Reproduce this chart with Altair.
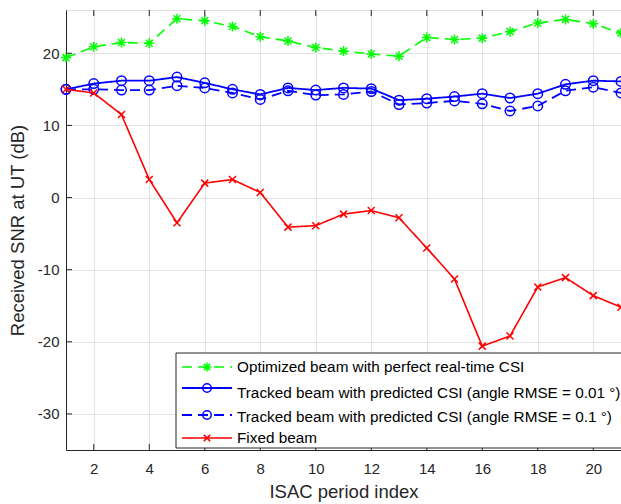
import altair as alt
import pandas as pd

# ---------------- data ----------------
period_index = list(range(1, 22))
optimized = [19.4, 20.9, 21.5, 21.4, 24.8, 24.5, 23.7, 22.3, 21.7, 20.8, 20.3,
             19.9, 19.6, 22.2, 21.9, 22.1, 23.0, 24.2, 24.7, 24.1, 22.8]
tracked_001 = [15.0, 15.8, 16.2, 16.2, 16.7, 15.9, 15.0, 14.3, 15.2, 14.9, 15.2,
               15.1, 13.5, 13.7, 14.0, 14.4, 13.8, 14.4, 15.7, 16.2, 16.1]
tracked_01 = [15.0, 15.0, 14.9, 14.9, 15.5, 15.2, 14.5, 13.6, 14.8, 14.2, 14.3,
              14.7, 12.9, 13.1, 13.4, 13.0, 12.0, 12.7, 14.8, 15.3, 14.5]
fixed = [15.0, 14.5, 11.5, 2.5, -3.5, 2.0, 2.5, 0.7, -4.1, -3.9, -2.3,
         -1.8, -2.8, -7.0, -11.3, -20.6, -19.2, -12.4, -11.1, -13.6, -15.2]

series_labels = [
    "Optimized beam with perfect real-time CSI",
    "Tracked beam with predicted CSI (angle RMSE = 0.01 °)",
    "Tracked beam with predicted CSI (angle RMSE = 0.1 °)",
    "Fixed beam",
]
series_values = [optimized, tracked_001, tracked_01, fixed]
x_ticks = [2, 4, 6, 8, 10, 12, 14, 16, 18, 20]
y_ticks = [-30, -20, -10, 0, 10, 20]

# ---------------- styles ----------------
colors = ["#00ff00", "#0000ff", "#0000ff", "#ff0000"]
dashes = [[10, 6], [1, 0], [10, 6], [1, 0]]
widths = [1.6, 1.8, 1.8, 1.6]
STAR = "M0,-1V1M-1,0H1M-0.7,-0.7L0.7,0.7M-0.7,0.7L0.7,-0.7"
XMARK = "M-1,-1L1,1M-1,1L1,-1"
shapes = [STAR, "circle", "circle", XMARK]
sizes = [100, 90, 90, 49]

FONT = "Liberation Sans"
AX = "#262626"
W, H = 555, 440

xscale = alt.Scale(domain=[1, 21], nice=False, zero=False)
yscale = alt.Scale(domain=[-35, 26], nice=False, zero=False)

X = alt.X("idx:Q", scale=xscale, axis=alt.Axis(
    values=x_ticks, grid=True, gridColor="#e3e3e3", ticks=False,
    domainColor=AX, labelFont=FONT, labelFontSize=15, labelColor=AX,
    labelPadding=11, title="ISAC period index", titleFont=FONT,
    titleFontSize=18.5, titleFontWeight="normal", titleColor=AX, titlePadding=6))
Y = alt.Y("snr:Q", scale=yscale, axis=alt.Axis(
    values=y_ticks, grid=True, gridColor="#e3e3e3", ticks=False,
    domainColor=AX, labelFont=FONT, labelFontSize=15, labelColor=AX,
    labelPadding=7, labelExpr="'' + datum.value",
    title="Received SNR at UT (dB)", titleFont=FONT, titleFontSize=18.5,
    titleFontWeight="normal", titleColor=AX, titlePadding=10))

layers = []
for i, (lab, vals) in enumerate(zip(series_labels, series_values)):
    df = pd.DataFrame({"idx": period_index, "snr": vals})
    base = alt.Chart(df)
    layers.append(base.mark_line(color=colors[i], strokeDash=dashes[i],
                                 strokeWidth=widths[i]).encode(x=X, y=Y))
    layers.append(base.mark_point(shape=shapes[i], color=colors[i], filled=False,
                                  size=sizes[i], strokeWidth=1.5, opacity=1)
                  .encode(x=X, y=Y))

# inward tick marks (MATLAB style)
xt = alt.Chart(pd.DataFrame({"idx": x_ticks}))
layers.append(xt.mark_rule(color=AX, strokeWidth=1).encode(
    x=X, y=alt.value(H), y2=alt.value(H - 6)))
layers.append(xt.mark_rule(color=AX, strokeWidth=1).encode(
    x=X, y=alt.value(0), y2=alt.value(6)))
yt = alt.Chart(pd.DataFrame({"snr": y_ticks}))
layers.append(yt.mark_rule(color=AX, strokeWidth=1).encode(
    y=Y, x=alt.value(0), x2=alt.value(6)))

# legend box
one = alt.Chart(pd.DataFrame({"a": [0]}))
layers.append(one.mark_rect(fill="white", stroke=AX, strokeWidth=1).encode(
    x=alt.value(110), x2=alt.value(557), y=alt.value(343), y2=alt.value(438)))
line_y = [357, 378, 405, 428]
text_y = [357, 383, 407, 428]
for i, lab in enumerate(series_labels):
    layers.append(one.mark_rule(color=colors[i], strokeDash=dashes[i],
                                strokeWidth=widths[i]).encode(
        x=alt.value(116), x2=alt.value(166), y=alt.value(line_y[i])))
    layers.append(one.mark_point(shape=shapes[i], color=colors[i], filled=False,
                                 size=sizes[i] * 0.8, strokeWidth=1.5, opacity=1).encode(
        x=alt.value(141), y=alt.value(line_y[i])))
    layers.append(one.mark_text(align="left", baseline="middle", font=FONT,
                                fontSize=15.3, color="#000000").encode(
        x=alt.value(171), y=alt.value(text_y[i]), text=alt.value(lab)))

chart = alt.layer(*layers).properties(
    width=W, height=H,
    autosize=alt.AutoSizeParams(type="none"),
    padding={"left": 66, "top": 10, "right": 0, "bottom": 54},
).configure_view(stroke=AX, strokeWidth=1).configure(font=FONT)

chart.save("out.html", embed_options={"renderer": "svg", "actions": False})
